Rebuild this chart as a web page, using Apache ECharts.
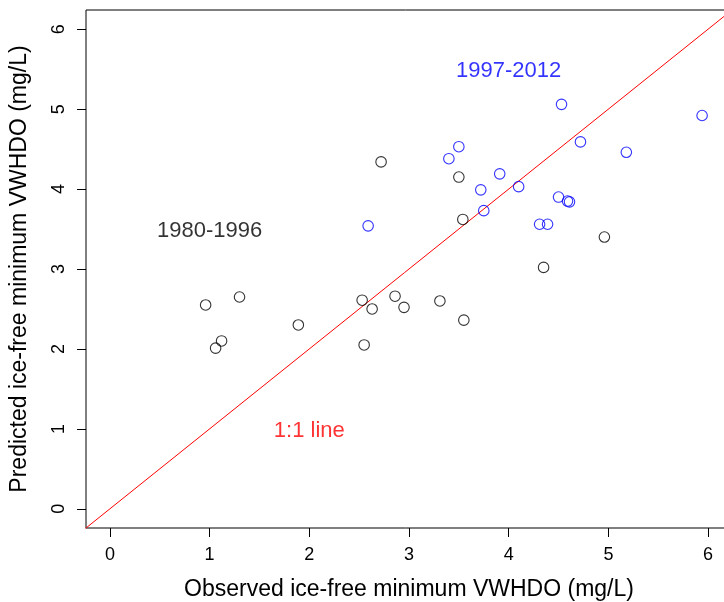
<!DOCTYPE html>
<html>
<head>
<meta charset="utf-8">
<script src="https://cdn.jsdelivr.net/npm/echarts@6/dist/echarts.min.js"></script>
<style>html,body{margin:0;padding:0;background:#fff}#c{width:724px;height:602px}</style>
</head>
<body>
<div id="c"></div>
<script>
// Data
var early = [ // 1980-1996: [observed, predicted]
  [0.96, 2.55], [1.06, 2.01], [1.12, 2.10], [1.30, 2.65], [1.89, 2.30],
  [2.53, 2.61], [2.55, 2.05], [2.63, 2.50], [2.72, 4.34], [2.86, 2.66],
  [2.95, 2.52], [3.31, 2.60], [3.50, 4.15], [3.54, 3.62], [3.55, 2.36],
  [4.35, 3.02], [4.96, 3.40]
];
var late = [ // 1997-2012
  [2.59, 3.54], [3.40, 4.38], [3.50, 4.53], [3.72, 3.99], [3.75, 3.73],
  [3.91, 4.19], [4.10, 4.03], [4.31, 3.56], [4.39, 3.56], [4.50, 3.90],
  [4.53, 5.06], [4.59, 3.85], [4.61, 3.84], [4.72, 4.59], [5.18, 4.46],
  [5.94, 4.92]
];
var tickValues = [0, 1, 2, 3, 4, 5, 6];
var axisMin = -0.24, axisMax = 6.24;
var oneToOne = [[-1, -1], [7, 7]];
var annotations = [
  {name: '1980-1996', value: [1, 3.5], color: '#000000'},
  {name: '1997-2012', value: [4, 5.5], color: '#0000ff'},
  {name: '1:1 line', value: [2, 1], color: '#ff0000'}
];
var xTitle = 'Observed ice-free minimum VWHDO (mg/L)';
var yTitle = 'Predicted ice-free minimum VWHDO (mg/L)';

var FONT = '"Liberation Sans", Arial, Helvetica, sans-serif';
var chart = echarts.init(document.getElementById('c'), null, {renderer: 'canvas'});

function axisCommon(title, isY) {
  return {
    type: 'value',
    min: axisMin, max: axisMax,
    name: title,
    nameLocation: 'middle',
    nameGap: isY ? 55 : 50,
    nameTextStyle: {fontFamily: FONT, fontSize: 23, color: '#000'},
    axisLine: {show: false, onZero: false},
    splitLine: {show: false},
    axisTick: {show: true, inside: false, length: 9, customValues: tickValues,
      lineStyle: {color: '#000', width: 1}},
    axisLabel: {show: true, customValues: tickValues, margin: 18,
      rotate: isY ? 90 : 0,
      fontFamily: FONT, fontSize: 18, color: '#000'}
  };
}

var option = {
  backgroundColor: '#ffffff',
  animation: false,
  grid: {left: 86, top: 10, width: 646, height: 518, show: true,
    containLabel: false, outerBoundsMode: 'none',
    borderColor: '#000', borderWidth: 1, backgroundColor: 'transparent'},
  xAxis: axisCommon(xTitle, false),
  yAxis: axisCommon(yTitle, true),
  series: [
    {
      type: 'line', data: oneToOne, symbol: 'none', clip: true,
      lineStyle: {color: '#ff0000', width: 1}, z: 1
    },
    {
      type: 'scatter', data: early, symbol: 'circle', symbolSize: 10.5,
      itemStyle: {color: 'rgba(0,0,0,0)', borderColor: '#000000', borderWidth: 1.1}, z: 2
    },
    {
      type: 'scatter', data: late, symbol: 'circle', symbolSize: 10.5,
      itemStyle: {color: 'rgba(0,0,0,0)', borderColor: '#0000ff', borderWidth: 1.1}, z: 2
    },
    {
      type: 'scatter', symbolSize: 0, silent: true, z: 3,
      data: annotations.map(function (a) {
        return {name: a.name, value: a.value,
          label: {show: true, position: 'inside', formatter: a.name, offset: [0, 2],
            fontFamily: FONT, fontSize: 22, color: a.color}};
      })
    }
  ]
};
chart.setOption(option);
</script>
</body>
</html>
